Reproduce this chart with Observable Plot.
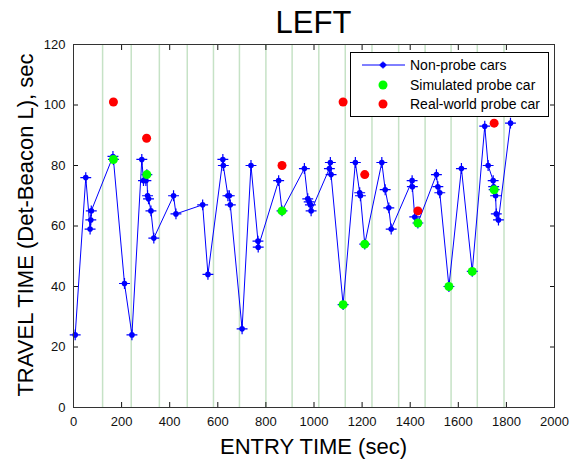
<!DOCTYPE html>
<html><head><meta charset="utf-8">
<script src="https://cdn.jsdelivr.net/npm/d3@7"></script>
<script src="https://cdn.jsdelivr.net/npm/@observablehq/plot@0.6"></script>
<style>
body{margin:0;background:#fff;font-family:"Liberation Sans",Arial,sans-serif;}
#wrap{position:relative;width:573px;height:459px;overflow:hidden;}
#chart{position:absolute;left:0;top:0;}
#title{position:absolute;left:73px;width:481px;top:7px;height:31px;line-height:31px;font-size:31px;text-align:center;color:#000;}
#xlabel{position:absolute;left:73px;width:481px;top:436px;height:22px;line-height:22px;font-size:22px;text-align:center;color:#000;}
#ylabel{position:absolute;left:-174px;width:400px;top:214px;height:22px;line-height:22px;font-size:22px;text-align:center;color:#000;transform:rotate(-90deg);transform-origin:50% 50%;white-space:nowrap;}
#legend{position:absolute;left:350px;top:52px;width:197px;height:63px;border:1px solid #000;background:#fff;}
#legend .row{position:absolute;left:0;width:197px;height:20px;}
#legend svg{position:absolute;left:0;top:0;}
#legend span{position:absolute;left:59px;top:0;height:20px;line-height:20px;font-size:14px;color:#000;white-space:nowrap;}
</style></head><body>
<div id="wrap">
  <div id="chart"></div>
  <div id="title">LEFT</div>
  <div id="xlabel">ENTRY TIME (sec)</div>
  <div id="ylabel">TRAVEL TIME (Det-Beacon L), sec</div>
  <div id="legend"></div>
</div>
<script>
// Non-probe cars (entry time, travel time) — the line also passes through the simulated probe car
const entryTime = [7, 51, 69, 72, 74, 164, 166, 212, 243, 284, 291, 301, 305, 308, 312, 322, 334, 416, 426, 537, 559, 621, 623, 642, 648, 652, 701, 738, 767, 768, 853, 867, 960, 974, 980, 985, 988, 1064, 1068, 1071, 1121, 1172, 1190, 1193, 1211, 1282, 1296, 1311, 1321, 1408, 1409, 1419, 1432, 1509, 1515, 1523, 1561, 1613, 1658, 1710, 1724, 1745, 1747, 1749, 1755, 1758, 1767, 1817];
const travelTime = [24, 76, 59, 62, 65, 83, 82, 41, 24, 82, 75, 75, 77, 70, 69, 65, 56, 70, 64, 67, 44, 82, 80, 70, 70, 67, 26, 80, 55, 53, 75, 65, 79, 69, 68, 67, 65, 79, 81, 77, 34, 81, 71, 70, 54, 81, 72, 66, 59, 75, 73, 63, 61, 77, 73, 71, 40, 79, 45, 93, 80, 75, 73, 72, 70, 64, 62, 94];
// Simulated probe car
const simEntry = [166, 305, 867, 1121, 1211, 1432, 1561, 1658, 1749];
const simTravel = [82, 77, 65, 34, 54, 61, 40, 45, 72];
// Real-world probe car
const realEntry = [166, 304, 867, 1121, 1211, 1432, 1749];
const realTravel = [101, 89, 80, 101, 77, 65, 94];
// Light green vertical reference lines (cycle starts)
const cycleStarts = [121, 240, 357, 473, 582, 690, 800, 909, 1020, 1130, 1241, 1352, 1462, 1570, 1679, 1790];
// Tick values
const xTicks = [0, 200, 400, 600, 800, 1000, 1200, 1400, 1600, 1800, 2000];
const yTicks = [0, 20, 40, 60, 80, 100, 120];
// Legend entries
const legendLabels = ["Non-probe cars", "Simulated probe car", "Real-world probe car"];

const blue = entryTime.map((t, i) => ({t, v: travelTime[i]}));
const sim = simEntry.map((t, i) => ({t, v: simTravel[i]}));
const real = realEntry.map((t, i) => ({t, v: realTravel[i]}));

const chart = Plot.plot({
  width: 573, height: 459,
  marginTop: 44, marginRight: 19, marginBottom: 52, marginLeft: 73,
  x: {domain: [0, 2000]},
  y: {domain: [0, 120]},
  style: {fontFamily: '"Liberation Sans", Arial, sans-serif', fontSize: "13px", color: "#111", background: "transparent", overflow: "visible"},
  marks: [
    Plot.ruleX(cycleStarts, {stroke: "#c6e2c6", strokeWidth: 1.5}),
    Plot.axisX({anchor: "bottom", ticks: xTicks, tickSize: -5, tickPadding: 14, label: null, tickFormat: d => String(d)}),
    Plot.axisX({anchor: "top", ticks: xTicks, tickSize: -5, label: null, tickFormat: () => ""}),
    Plot.axisY({anchor: "left", ticks: yTicks, tickSize: -5, tickPadding: 13, label: null, tickFormat: d => String(d)}),
    Plot.axisY({anchor: "right", ticks: yTicks, tickSize: -5, label: null, tickFormat: () => ""}),
    Plot.line(blue, {x: "t", y: "v", stroke: "#0000ff", strokeWidth: 1}),
    Plot.dot(blue, {x: "t", y: "v", r: 2.8, fill: "#0000ff"}),
    Plot.dot(blue, {x: "t", y: "v", r: 3.6, symbol: "plus", stroke: "#0000ff", strokeWidth: 1.2}),
    Plot.dot(sim, {x: "t", y: "v", r: 4.5, fill: "#00ff00"}),
    Plot.dot(real, {x: "t", y: "v", r: 4.5, fill: "#ff0000"}),
    Plot.frame({stroke: "#333"})
  ]
});
document.getElementById("chart").appendChild(chart);

// Legend (HTML overlay inside the axes, top-right)
const legend = d3.select("#legend");
const swatchStyles = [
  {line: true, color: "#0000ff"},
  {line: false, color: "#00ff00"},
  {line: false, color: "#ff0000"}
];
const rowTops = [2, 22, 41];
legendLabels.forEach((label, i) => {
  const row = legend.append("div").attr("class", "row").style("top", rowTops[i] + "px");
  const svg = row.append("svg").attr("width", 58).attr("height", 20);
  const s = swatchStyles[i];
  if (s.line) {
    svg.append("line").attr("x1", 11).attr("x2", 54).attr("y1", 10).attr("y2", 10).attr("stroke", s.color).attr("stroke-width", 1);
    svg.append("circle").attr("cx", 32).attr("cy", 10).attr("r", 2.8).attr("fill", s.color);
    svg.append("path").attr("d", "M28.4,10h7.2M32,6.4v7.2").attr("stroke", s.color).attr("stroke-width", 1.2);
  } else {
    svg.append("circle").attr("cx", 32).attr("cy", 10).attr("r", 4.5).attr("fill", s.color);
  }
  row.append("span").text(label);
});
</script>
</body></html>
